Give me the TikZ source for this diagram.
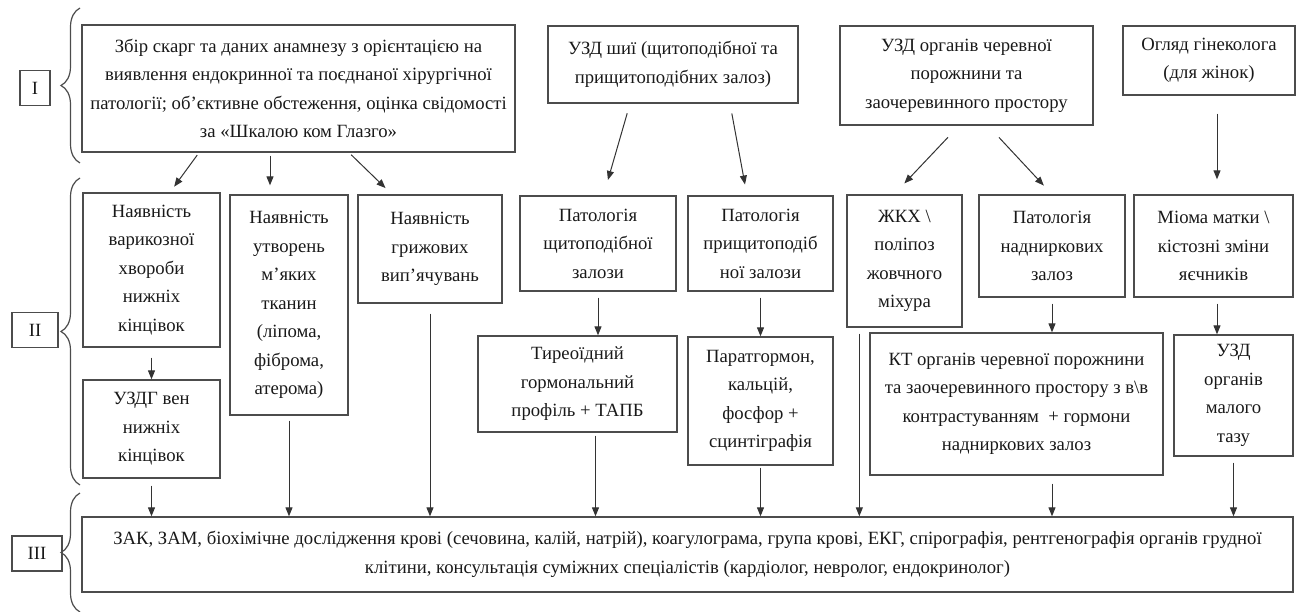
\documentclass[tikz,border=0pt]{standalone}
\usepackage{fontspec}
\setmainfont{Liberation Serif}
\usepackage{tikz}
\usetikzlibrary{arrows.meta, calc, decorations.pathreplacing}

\tikzset{
  blok/.style={draw=black!70, line width=1.3pt, align=center, inner sep=0pt,
    text=black!90, font=\fontsize{18.7}{28.5}\selectfont},
  mitka/.style={blok, minimum height=35pt},
  strilka/.style={draw=black!80, line width=1pt, -{Triangle[length=9pt,width=7pt]}},
  duzhka/.style={draw=black!70, line width=1.2pt, decorate,
    decoration={brace, amplitude=19pt}}
}

\begin{document}
\begin{tikzpicture}[x=1pt, y=-1pt]
  \useasboundingbox (0,0) rectangle (1301,612);

  % Etapy
  \node[mitka, minimum width=30pt] (et1) at (35,88) {I};
  \node[mitka, minimum width=46pt] (et2) at (35,330) {II};
  \node[mitka, minimum width=50pt] (et3) at (37,553.5) {III};
  \draw[duzhka] (80,163) -- (80,8);
  \draw[duzhka] (80,485) -- (80,178);
  \draw[duzhka] (80,612) -- (80,493);

  % Riven I
  \node[blok, minimum width=433pt, minimum height=127pt] (zbir) at (298.5,88.5)
    {Збір скарг та даних анамнезу з орієнтацією на\\виявлення ендокринної та поєднаної хірургічної\\патології; об’єктивне обстеження, оцінка свідомості\\за «Шкалою ком Глазго»};
  \node[blok, minimum width=250pt, minimum height=77pt] (uzdshyi) at (673,64.5)
    {УЗД шиї (щитоподібної та\\прищитоподібних залоз)};
  \node[blok, minimum width=253pt, minimum height=99pt] (uzdcherev) at (966.5,75.5)
    {УЗД органів черевної\\порожнини та\\заочеревинного простору};
  \node[blok, minimum width=172pt, minimum height=69pt] (ohliad) at (1209,60.5)
    {Огляд гінеколога\\(для жінок)};

  % Riven II
  \node[blok, minimum width=137pt, minimum height=154pt] (varik) at (151.5,270)
    {Наявність\\варикозної\\хвороби\\нижніх\\кінцівок};
  \node[blok, minimum width=118pt, minimum height=220pt] (utvor) at (289,305)
    {Наявність\\утворень\\м’яких\\тканин\\(ліпома,\\фіброма,\\атерома)};
  \node[blok, minimum width=144pt, minimum height=108pt] (hryzh) at (430,249)
    {Наявність\\грижових\\вип’ячувань};
  \node[blok, minimum width=156pt, minimum height=95pt] (shchyt) at (598,243.5)
    {Патологія\\щитоподібної\\залози};
  \node[blok, minimum width=145pt, minimum height=95pt] (pryshch) at (760.5,243.5)
    {Патологія\\прищитоподіб\\ної залози};
  \node[blok, minimum width=115pt, minimum height=132pt] (zhkh) at (904.5,261)
    {ЖКХ \textbackslash\\поліпоз\\жовчного\\міхура};
  \node[blok, minimum width=146pt, minimum height=102pt] (nadnyrk) at (1052,246)
    {Патологія\\надниркових\\залоз};
  \node[blok, minimum width=159pt, minimum height=102pt] (mioma) at (1213.5,246)
    {Міома матки \textbackslash\\кістозні зміни\\яєчників};

  \node[blok, minimum width=137pt, minimum height=98pt] (uzdg) at (151.5,429)
    {УЗДГ вен\\нижніх\\кінцівок};
  \node[blok, minimum width=199pt, minimum height=96pt] (tyreo) at (577.5,384)
    {Тиреоїдний\\гормональний\\профіль + ТАПБ};
  \node[blok, minimum width=145pt, minimum height=128pt] (parat) at (760.5,401)
    {Паратгормон,\\кальцій,\\фосфор +\\сцинтіграфія};
  \node[blok, minimum width=293pt, minimum height=142pt] (kt) at (1016.5,404)
    {КТ органів черевної порожнини\\та заочеревинного простору з в\textbackslash в\\контрастуванням \ + гормони\\надниркових залоз};
  \node[blok, minimum width=119pt, minimum height=121pt] (uzdtaz) at (1233.5,395.5)
    {УЗД\\органів\\малого\\тазу};

  % Riven III
  \node[blok, minimum width=1211pt, minimum height=75pt] (zak) at (687.5,554.5)
    {ЗАК, ЗАМ, біохімічне дослідження крові (сечовина, калій, натрій), коагулограма, група крові, ЕКГ, спірографія, рентгенографія органів грудної\\клітини, консультація суміжних спеціалістів (кардіолог, невролог, ендокринолог)};

  % Strilky z rivnia I
  \draw[strilka, shorten <=3pt, shorten >=7pt] ([xshift=-99.5pt]zbir.south) -- ([xshift=18.5pt]varik.north);
  \draw[strilka, shorten <=3pt, shorten >=9pt] ([xshift=-28.5pt]zbir.south) -- ([xshift=-19pt]utvor.north);
  \draw[strilka, shorten <=3pt, shorten >=9pt] ([xshift=50.5pt]zbir.south) -- ([xshift=-38pt]hryzh.north);
  \draw[strilka, shorten <=10pt, shorten >=16pt] ([xshift=-43pt]uzdshyi.south) -- ([xshift=5.5pt]shchyt.north);
  \draw[strilka, shorten <=10pt, shorten >=11pt] ([xshift=57pt]uzdshyi.south) -- ([xshift=-13.5pt]pryshch.north);
  \draw[strilka, shorten <=16pt, shorten >=15pt] ([xshift=-7.5pt]uzdcherev.south) -- ([xshift=-10.5pt]zhkh.north);
  \draw[strilka, shorten <=16pt, shorten >=12pt] ([xshift=21.5pt]uzdcherev.south) -- (nadnyrk.north);
  \draw[strilka, shorten <=18pt, shorten >=15pt] ([xshift=8pt]ohliad.south) -- ([xshift=3.5pt]mioma.north);

  % Strilky vseredyni rivnia II
  \draw[strilka, shorten <=10pt] (varik.south) -- (uzdg.north);
  \draw[strilka, shorten <=6pt] (shchyt.south) -- (shchyt.south |- tyreo.north);
  \draw[strilka, shorten <=6pt] (pryshch.south) -- (parat.north);
  \draw[strilka, shorten <=6pt] (nadnyrk.south) -- (nadnyrk.south |- kt.north);
  \draw[strilka, shorten <=6pt] ([xshift=3.5pt]mioma.south) -- ([xshift=3.5pt]mioma.south |- uzdtaz.north);

  % Strilky do rivnia III
  \foreach \vid/\vidst in {uzdg/7, utvor/5, hryzh/10, parat/2, uzdtaz/6}
    \draw[strilka, shorten <=\vidst pt] (\vid.south) -- (\vid.south |- zak.north);
  \draw[strilka, shorten <=3pt] ([xshift=18pt]tyreo.south) -- ([xshift=18pt]tyreo.south |- zak.north);
  \draw[strilka, shorten <=6pt] ([xshift=13pt]zhkh.south west) -- ([xshift=13pt]zhkh.south west |- zak.north);
  \draw[strilka, shorten <=8pt] ([xshift=35.5pt]kt.south) -- ([xshift=35.5pt]kt.south |- zak.north);
\end{tikzpicture}
\end{document}
